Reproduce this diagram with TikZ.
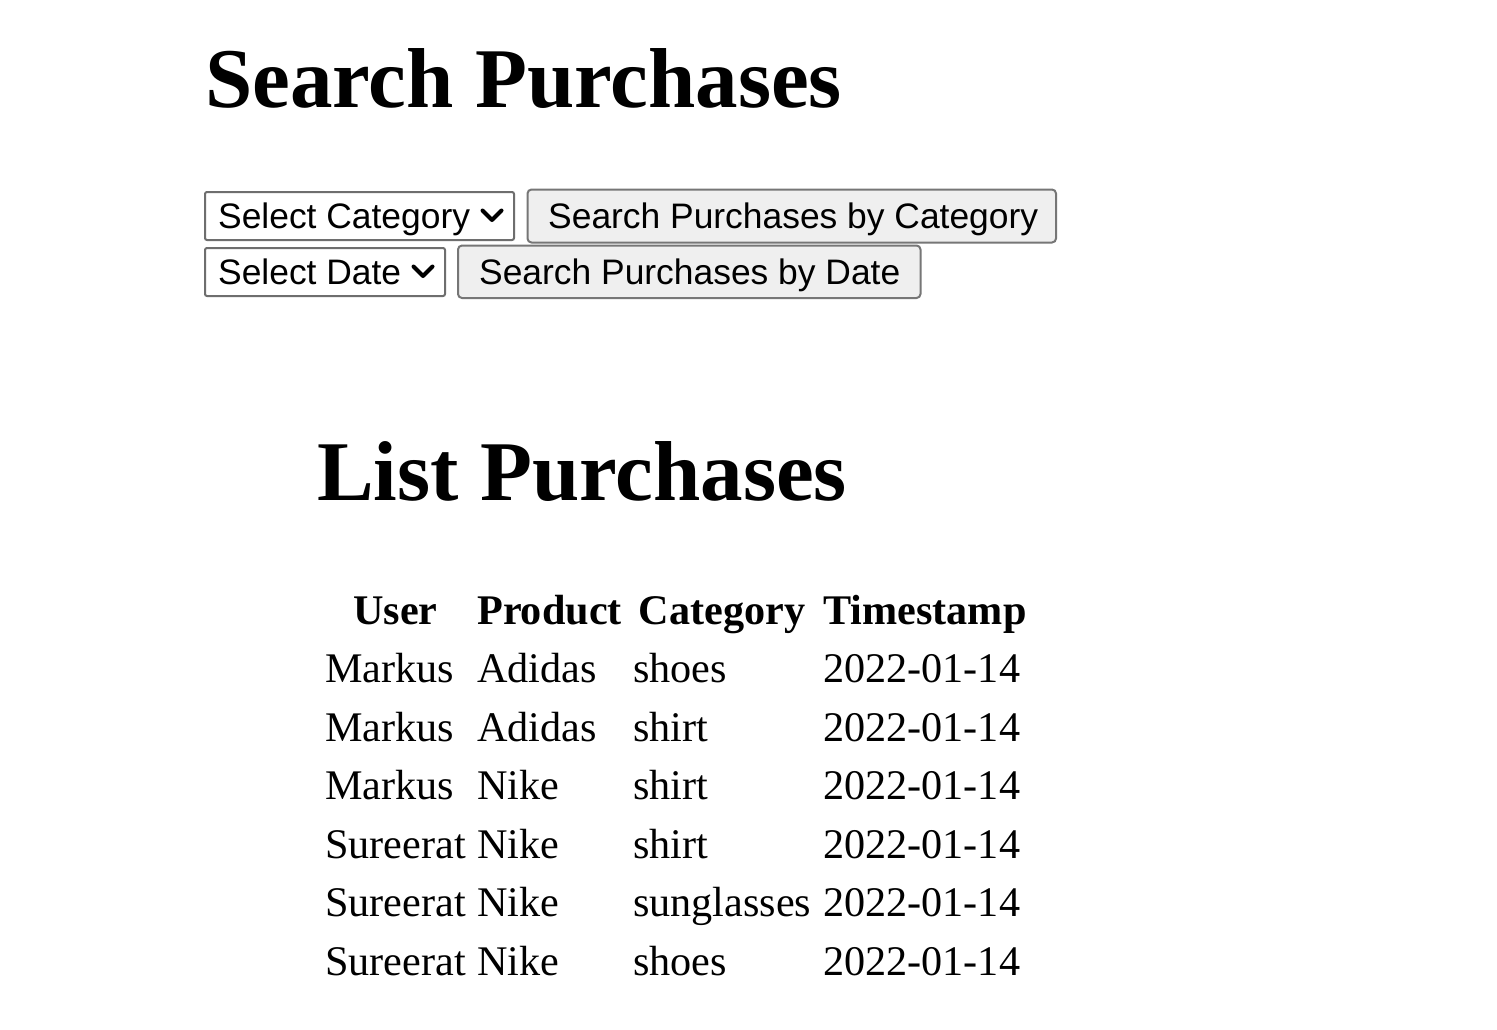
\documentclass[tikz,border=0pt]{standalone}
\usepackage{fontspec}
\setmainfont{Liberation Serif}
\newfontfamily\uisans{Liberation Sans}
\definecolor{btnfill}{HTML}{EFEFEF}
\definecolor{btnline}{HTML}{767676}
\definecolor{selline}{HTML}{6E6E6E}
\begin{document}
\begin{tikzpicture}[x=1pt,y=-1pt,
  headtxt/.style={anchor=base west,inner sep=0pt,font=\fontsize{85}{100}\selectfont\bfseries},
  uitxt/.style={anchor=base west,inner sep=0pt,font=\uisans\fontsize{35.4}{42}\selectfont},
  selbox/.style={draw=selline,line width=2pt,rounded corners=2pt,minimum height=48pt,inner sep=0pt,fill=white},
  btnbox/.style={draw=btnline,line width=2pt,rounded corners=4pt,fill=btnfill,inner sep=0pt},
  chev/.style={line width=4pt,line cap=round,line join=round},
  cell/.style={anchor=base west,inner sep=0pt,font=\fontsize{42.2}{50}\selectfont},
  hcell/.style={anchor=base,inner sep=0pt,font=\fontsize{42.2}{50}\selectfont\bfseries}]
\useasboundingbox (0,0) rectangle (1497,1029);
\fill[white] (0,0) rectangle (1497,1029);

% headings
\node[headtxt] (h1) at (205,107) {Search Purchases};
\node[headtxt] (h2) at (317,500) {List Purchases};

% controls
\node[selbox,minimum width=309pt] (selcat) at (359.5,216) {};
\node[uitxt] (selcattxt) at (218,228) {Select Category};
\draw[chev] (482.5,210.5) -- (492,220) -- (501.5,210.5);
\node[btnbox,minimum width=528.5pt,minimum height=53pt] (btncat) at (791.75,216) {};
\node[uitxt] (btncattxt) at (548,228) {Search Purchases by Category};

\node[selbox,minimum width=240pt] (seldate) at (325,272) {};
\node[uitxt] (seldatetxt) at (218,284) {Select Date};
\draw[chev] (413.5,266.5) -- (423,276) -- (432.5,266.5);
\node[btnbox,minimum width=462.5pt,minimum height=52.5pt] (btndate) at (689.25,271.75) {};
\node[uitxt] (btndatetxt) at (479,284) {Search Purchases by Date};

% table header
\node[hcell] (hu) at (395.3,624) {User};
\node[hcell] (hp) at (549.5,624) {Product};
\node[hcell] (hc) at (722,624) {Category};
\node[hcell] (ht) at (925,624) {Timestamp};

% rows
\foreach \y/\u/\p/\c [count=\i] in {682.5/Markus/Adidas/shoes, 741/Markus/Adidas/shirt, 799.5/Markus/Nike/shirt, 858/Sureerat/Nike/shirt, 916.5/Sureerat/Nike/sunglasses, 975/Sureerat/Nike/shoes}{
  \node[cell] (u\i) at (325,\y) {\u};
  \node[cell] (p\i) at (477,\y) {\p};
  \node[cell] (c\i) at (633,\y) {\c};
  \node[cell] (t\i) at (823,\y) {2022-01-14};
}
\end{tikzpicture}
\end{document}
